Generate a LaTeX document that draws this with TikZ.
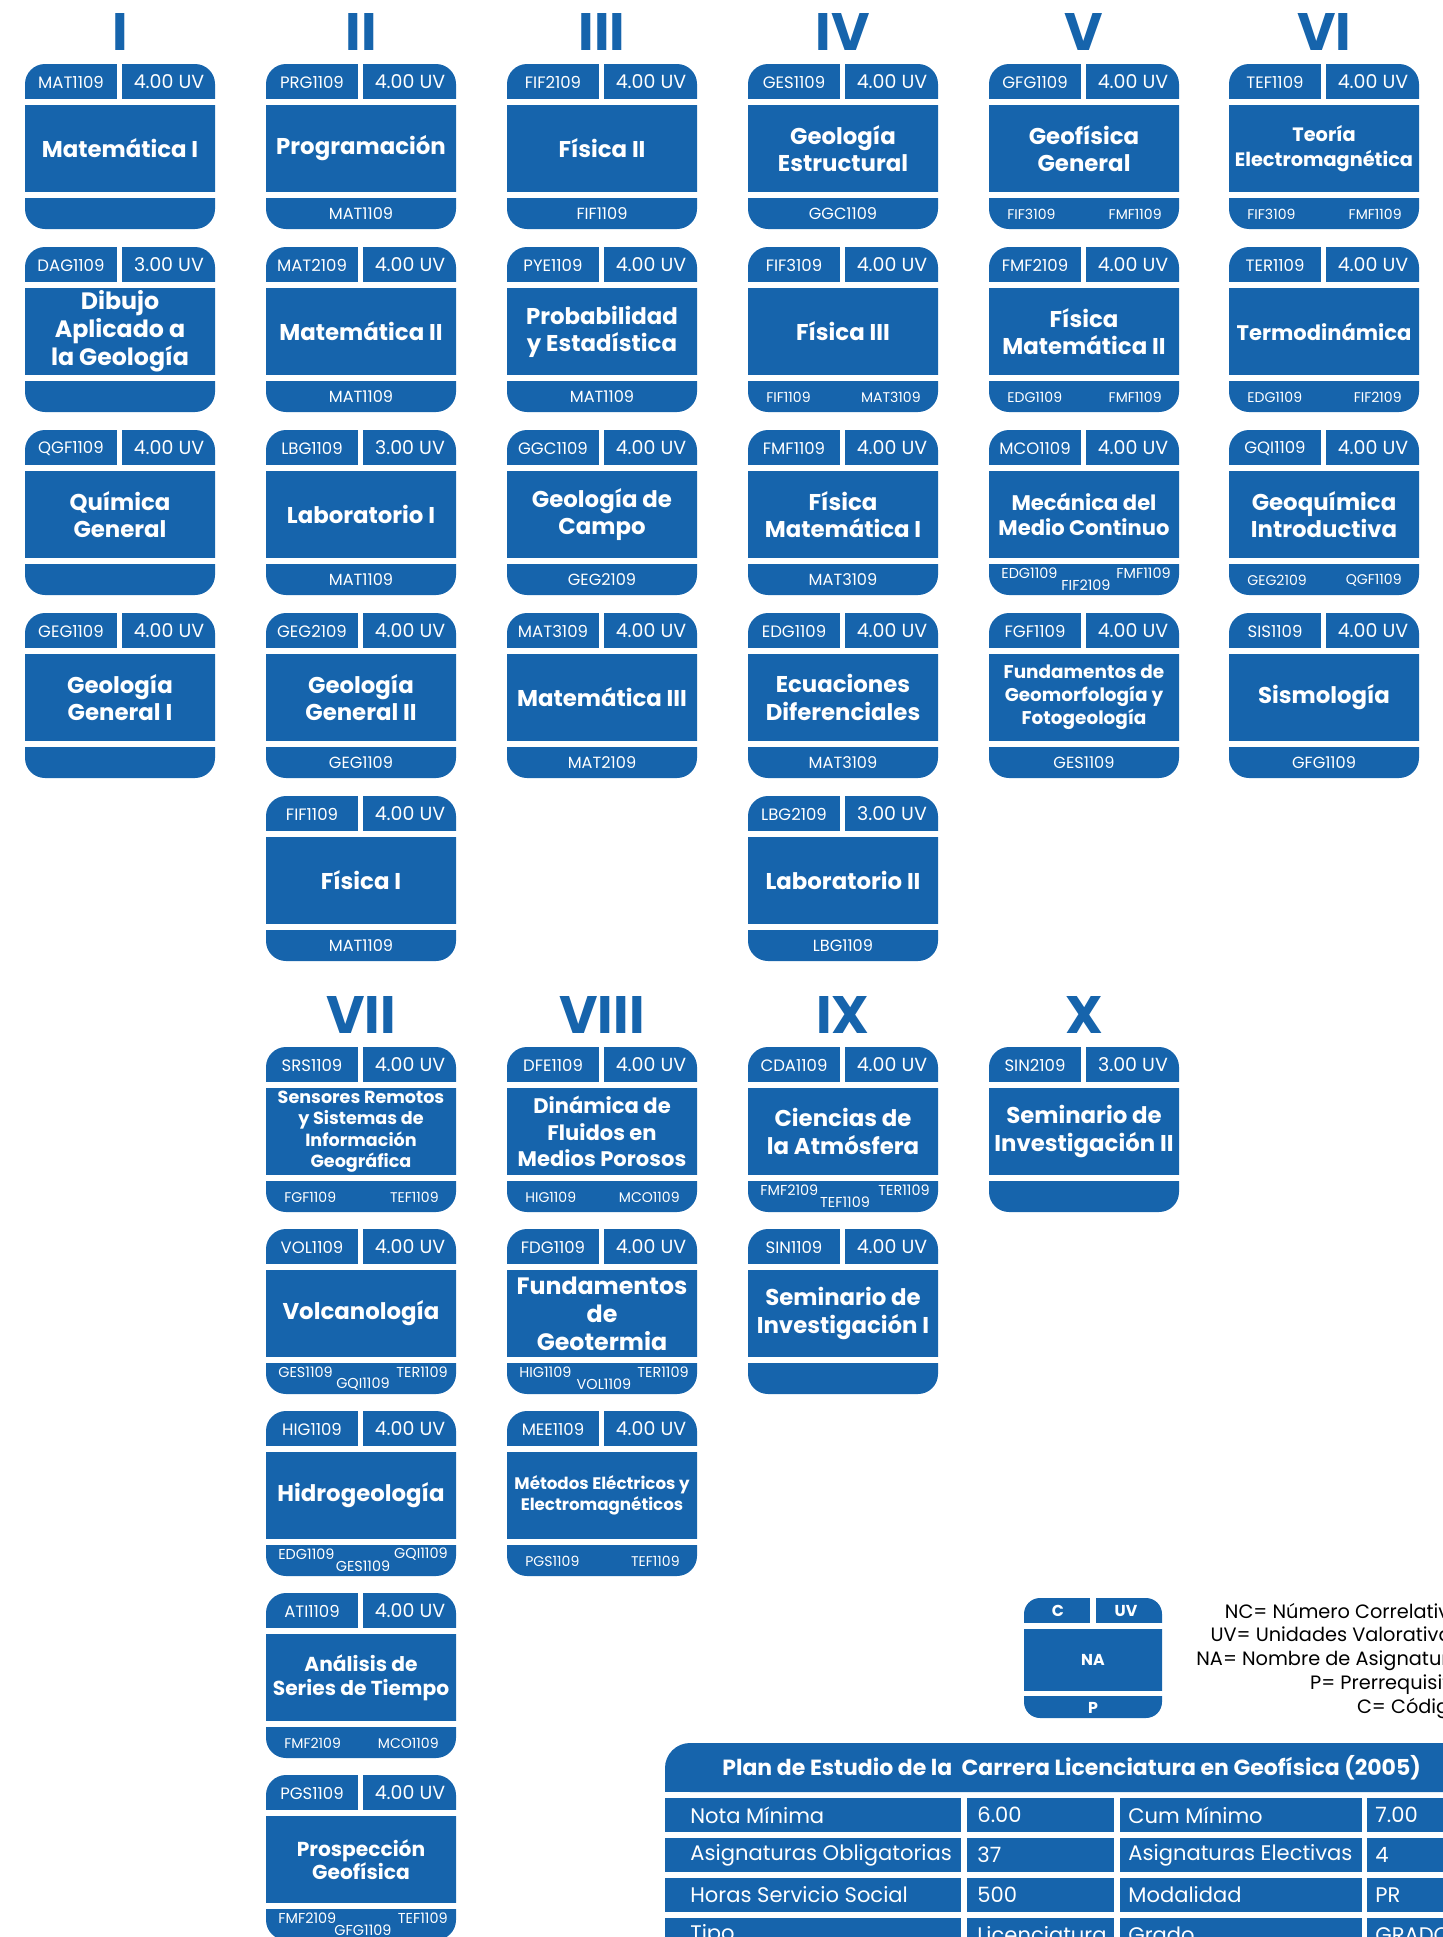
\documentclass[tikz,border=0pt]{standalone}
\usepackage{fontspec}
\setmainfont{Poppins}
\definecolor{azul}{RGB}{22,100,172}
\tikzset{
  cod/.style={text=white, font=\fontsize{9.4pt}{10pt}\selectfont, inner sep=0},
  uv/.style={text=white, font=\fontsize{10.8pt}{12pt}\selectfont, inner sep=0},
  na/.style={text=white, align=center, font=\bfseries\fontsize{13pt}{15.5pt}\selectfont, inner sep=0},
  tit/.style 2 args={font=\bfseries\fontsize{#1}{#2}\selectfont},
  pre/.style={text=white, font=\fontsize{9.2pt}{10pt}\selectfont, inner sep=0},
  pre2/.style={text=white, font=\fontsize{8pt}{9pt}\selectfont, inner sep=0},
  pre3/.style={text=white, font=\fontsize{8.2pt}{9pt}\selectfont, inner sep=0},
  sem/.style={text=azul, font=\bfseries\fontsize{30pt}{30pt}\selectfont, inner sep=0},
  leyc/.style={text=white, font=\bfseries\fontsize{9pt}{10pt}\selectfont, inner sep=0},
  leyenda/.style={text=black, font=\fontsize{11pt}{12pt}\selectfont, inner sep=0, anchor=base east},
  celda/.style={text=white, font=\fontsize{12pt}{14pt}\selectfont, inner sep=0, anchor=west},
}
\newcommand{\materia}[6][]{%
  \begin{scope}[shift={(#2)}]
    \def\cur{#3}%
    \fill[azul, rounded corners=0.4cm] (0,0) rectangle (190,165);
    \fill[white] (-1,35) rectangle (191,41);
    \fill[white] (-1,128) rectangle (191,134);
    \fill[white] (92,-1) rectangle (97,36);
    \node[cod] (#3) at (46,18) {#3};
    \node[uv] (#3-uv) at (144,18) {#4};
    \node[na,#1] (#3-na) at (95,84.5) {#5};
    #6
  \end{scope}}
\newcommand{\uno}[1]{\node[pre] (\cur-p) at (95,150) {#1};}
\newcommand{\dos}[2]{\node[pre2,anchor=west] (\cur-p1) at (18,150) {#1};
  \node[pre2,anchor=east] (\cur-p2) at (173,150) {#2};}
\newcommand{\tres}[3]{\node[pre3,anchor=west] (\cur-p1) at (12,143) {#1};
  \node[pre3] (\cur-p2) at (97,155) {#2};
  \node[pre3,anchor=east] (\cur-p3) at (182,143) {#3};}
\newcommand{\fila}[6]{%
  \fill[azul] (665,#2) rectangle (961,#2+34);
  \fill[azul] (967,#2) rectangle (1114,#2+34);
  \fill[azul] (1120,#2) rectangle (1362,#2+34);
  \fill[azul] (1367,#2) rectangle (1470,#2+34);
  \node[celda] (#1a) at (690,#2+17) {#3};
  \node[celda] (#1b) at (977,#2+17) {#4};
  \node[celda] (#1c) at (1128,#2+17) {#5};
  \node[celda] (#1d) at (1375,#2+17) {#6};}

\begin{document}
\begin{tikzpicture}[x=0.02cm, y=-0.02cm]
  \useasboundingbox (0,0) rectangle (1443,1937);
  \clip (0,0) rectangle (1443,1937);

  \node[sem] (s1) at (120,32) {I};
  \node[sem] (s2) at (361,32) {II};
  \node[sem] (s3) at (602,32) {III};
  \node[sem] (s4) at (843,32) {IV};
  \node[sem] (s5) at (1084,32) {V};
  \node[sem] (s6) at (1324,32) {VI};
  \node[sem] (s7) at (361,1015) {VII};
  \node[sem] (s8) at (602,1015) {VIII};
  \node[sem] (s9) at (843,1015) {IX};
  \node[sem] (s10) at (1084,1015) {X};

  \materia{25,64}{MAT1109}{4.00 UV}{Matemática I}{}
  \materia[tit={13.5pt}{16pt}]{25,247}{DAG1109}{3.00 UV}{Dibujo\\Aplicado a\\la Geología}{}
  \materia{25,430}{QGF1109}{4.00 UV}{Química\\General}{}
  \materia{25,613}{GEG1109}{4.00 UV}{Geología\\General I}{}

  \materia{266,64}{PRG1109}{4.00 UV}{Programación}{\uno{MAT1109}}
  \materia{266,247}{MAT2109}{4.00 UV}{Matemática II}{\uno{MAT1109}}
  \materia{266,430}{LBG1109}{3.00 UV}{Laboratorio I}{\uno{MAT1109}}
  \materia{266,613}{GEG2109}{4.00 UV}{Geología\\General II}{\uno{GEG1109}}
  \materia{266,796}{FIF1109}{4.00 UV}{Física I}{\uno{MAT1109}}

  \materia{507,64}{FIF2109}{4.00 UV}{Física II}{\uno{FIF1109}}
  \materia{507,247}{PYE1109}{4.00 UV}{Probabilidad\\y Estadística}{\uno{MAT1109}}
  \materia{507,430}{GGC1109}{4.00 UV}{Geología de\\Campo}{\uno{GEG2109}}
  \materia{507,613}{MAT3109}{4.00 UV}{Matemática III}{\uno{MAT2109}}

  \materia{748,64}{GES1109}{4.00 UV}{Geología\\Estructural}{\uno{GGC1109}}
  \materia{748,247}{FIF3109}{4.00 UV}{Física III}{\dos{FIF1109}{MAT3109}}
  \materia{748,430}{FMF1109}{4.00 UV}{Física\\Matemática I}{\uno{MAT3109}}
  \materia{748,613}{EDG1109}{4.00 UV}{Ecuaciones\\Diferenciales}{\uno{MAT3109}}
  \materia{748,796}{LBG2109}{3.00 UV}{Laboratorio II}{\uno{LBG1109}}

  \materia{989,64}{GFG1109}{4.00 UV}{Geofísica\\General}{\dos{FIF3109}{FMF1109}}
  \materia{989,247}{FMF2109}{4.00 UV}{Física\\Matemática II}{\dos{EDG1109}{FMF1109}}
  \materia[tit={12pt}{14.5pt}]{989,430}{MCO1109}{4.00 UV}{Mecánica del\\Medio Continuo}{\tres{EDG1109}{FIF2109}{FMF1109}}
  \materia[tit={10.5pt}{13pt}]{989,613}{FGF1109}{4.00 UV}{Fundamentos de\\Geomorfología y\\Fotogeología}{\uno{GES1109}}

  \materia[tit={11pt}{14pt}]{1229,64}{TEF1109}{4.00 UV}{Teoría\\Electromagnética}{\dos{FIF3109}{FMF1109}}
  \materia[tit={12pt}{14pt}]{1229,247}{TER1109}{4.00 UV}{Termodinámica}{\dos{EDG1109}{FIF2109}}
  \materia{1229,430}{GQI1109}{4.00 UV}{Geoquímica\\Introductiva}{\dos{GEG2109}{QGF1109}}
  \materia{1229,613}{SIS1109}{4.00 UV}{Sismología}{\uno{GFG1109}}

  \materia[tit={10pt}{12.2pt}]{266,1047}{SRS1109}{4.00 UV}{Sensores Remotos\\y Sistemas de\\Información\\Geográfica}{\dos{FGF1109}{TEF1109}}
  \materia{266,1229}{VOL1109}{4.00 UV}{Volcanología}{\tres{GES1109}{GQI1109}{TER1109}}
  \materia{266,1411}{HIG1109}{4.00 UV}{Hidrogeología}{\tres{EDG1109}{GES1109}{GQI1109}}
  \materia[tit={11.5pt}{13.5pt}]{266,1593}{ATI1109}{4.00 UV}{Análisis de\\Series de Tiempo}{\dos{FMF2109}{MCO1109}}
  \materia[tit={11.5pt}{13.5pt}]{266,1775}{PGS1109}{4.00 UV}{Prospección\\Geofísica}{\tres{FMF2109}{GFG1109}{TEF1109}}

  \materia[tit={12pt}{15pt}]{507,1047}{DFE1109}{4.00 UV}{Dinámica de\\Fluidos en\\Medios Porosos}{\dos{HIG1109}{MCO1109}}
  \materia[tit={13.5pt}{16pt}]{507,1229}{FDG1109}{4.00 UV}{Fundamentos\\de\\Geotermia}{\tres{HIG1109}{VOL1109}{TER1109}}
  \materia[tit={9.5pt}{12pt}]{507,1411}{MEE1109}{4.00 UV}{Métodos Eléctricos y\\Electromagnéticos}{\dos{PGS1109}{TEF1109}}

  \materia{748,1047}{CDA1109}{4.00 UV}{Ciencias de\\la Atmósfera}{\tres{FMF2109}{TEF1109}{TER1109}}
  \materia{748,1229}{SIN1109}{4.00 UV}{Seminario de\\Investigación I}{}

  \materia{989,1047}{SIN2109}{3.00 UV}{Seminario de\\Investigación II}{}

  \fill[azul, rounded corners=0.32cm] (1024,1598) rectangle (1162,1718);
  \fill[white] (1023,1623) rectangle (1163,1629);
  \fill[white] (1023,1691) rectangle (1163,1696);
  \fill[white] (1090,1597) rectangle (1096,1624);
  \node[leyc] (lc) at (1058,1611) {C};
  \node[leyc] (luv) at (1126,1611) {UV};
  \node[leyc] (lna) at (1093,1660) {NA};
  \node[leyc] (lp) at (1093,1708) {P};
  \node[leyenda] (l1) at (1462,1618) {NC= Número Correlativo};
  \node[leyenda] (l2) at (1462,1641) {UV= Unidades Valorativas};
  \node[leyenda] (l3) at (1462,1665) {NA= Nombre de Asignatura};
  \node[leyenda] (l4) at (1462,1689) {P= Prerrequisito};
  \node[leyenda] (l5) at (1462,1713) {C= Código};

  \fill[azul, rounded corners=0.5cm] (665,1743) rectangle (1470,1792);
  \fill[azul] (665,1768) rectangle (1470,1792);
  \node[celda, font=\bfseries\fontsize{12.5pt}{14pt}\selectfont] (plan) at (722,1768) {Plan de Estudio de la\ \ Carrera Licenciatura en Geofísica (2005)};
  \fila{f1}{1798}{Nota Mínima}{6.00}{Cum Mínimo}{7.00}
  \fila{f2}{1838}{Asignaturas Obligatorias}{37}{Asignaturas Electivas}{4}
  \fila{f3}{1878}{Horas Servicio Social}{500}{Modalidad}{PR}
  \fila{f4}{1918}{Tipo}{Licenciatura}{Grado}{GRADO}
\end{tikzpicture}
\end{document}
